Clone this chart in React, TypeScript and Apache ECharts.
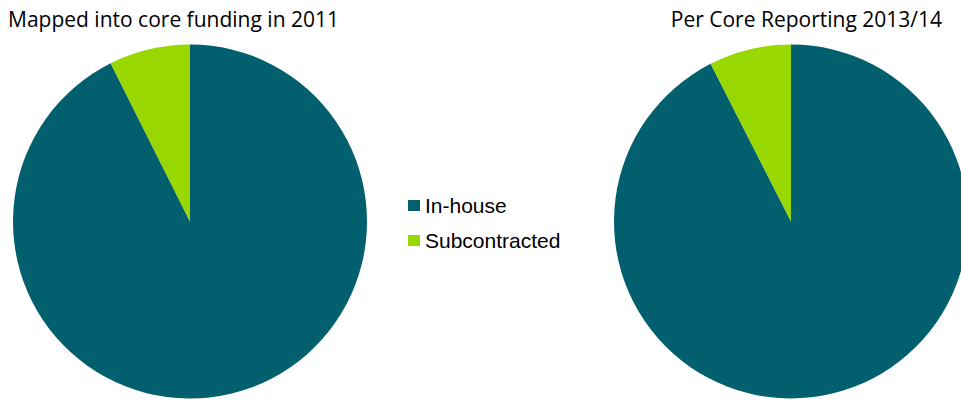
import React, { useEffect, useRef } from "react";
import * as echarts from "echarts";

const categories = ["In-house", "Subcontracted"];
const values2011 = [92.6, 7.4];
const values2013 = [92.5, 7.5];
const chartTitles = ["Mapped into core funding in 2011", "Per Core Reporting 2013/14"];
const colors = ["#02606E", "#99D700"];

export default function App() {
  const ref = useRef<HTMLDivElement>(null);
  useEffect(() => {
    const chart = echarts.init(ref.current!, null, { renderer: "svg" });
    const mk = (vals: number[]) => categories.map((c, i) => ({ name: c, value: vals[i] }));
    const titleStyle = { fontFamily: "Open Sans", fontSize: 21, fontWeight: "normal", color: "#000" };
    chart.setOption({
      animation: false,
      color: colors,
      title: [
        { text: chartTitles[0], left: 3, top: 3, textStyle: titleStyle },
        { text: chartTitles[1], right: 14, top: 3, textStyle: titleStyle },
      ],
      legend: {
        orient: "vertical",
        left: 403,
        top: 190,
        icon: "rect",
        itemWidth: 12,
        itemHeight: 11,
        itemGap: 14,
        data: categories,
        textStyle: { fontFamily: "Liberation Sans", fontSize: 21, color: "#000" },
      },
      series: [
        {
          type: "pie",
          center: [190, 221.5],
          radius: 177,
          startAngle: 90,
          clockwise: true,
          label: { show: false },
          labelLine: { show: false },
          emphasis: { disabled: true },
          data: mk(values2011),
        },
        {
          type: "pie",
          center: [791, 221.5],
          radius: 177,
          startAngle: 90,
          clockwise: true,
          label: { show: false },
          labelLine: { show: false },
          emphasis: { disabled: true },
          data: mk(values2013),
        },
      ],
    });
    return () => chart.dispose();
  }, []);
  return (
    <div
      ref={ref}
      style={{ position: "fixed", left: 0, top: 0, width: 961, height: 401, background: "#fff" }}
    />
  );
}
